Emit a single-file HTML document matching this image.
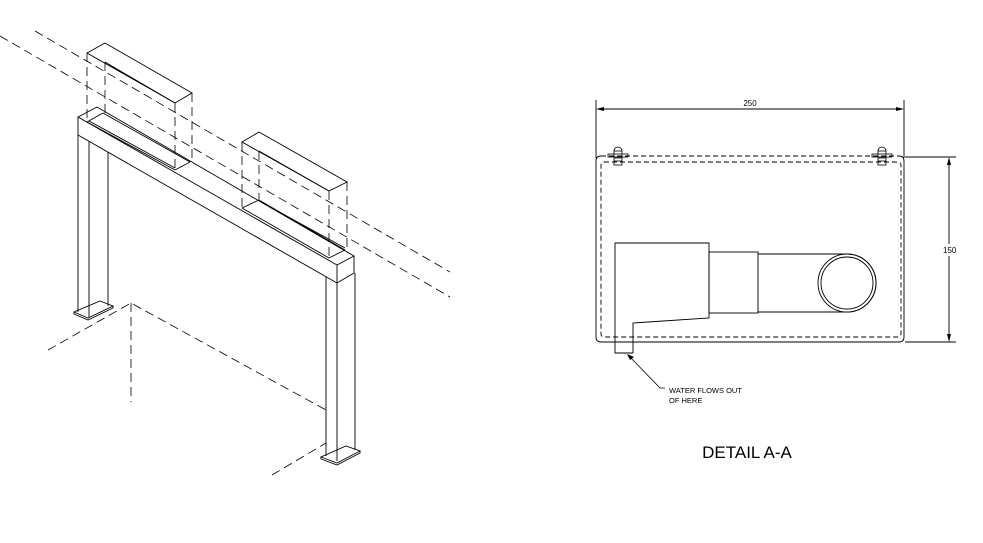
<!DOCTYPE html>
<html><head><style>body{margin:0;background:#fff}svg{display:block}</style></head><body>
<svg width="983" height="543" viewBox="0 0 983 543" xmlns="http://www.w3.org/2000/svg" font-family="Liberation Sans, sans-serif">
<g fill="none" stroke="#000" stroke-width="0.9">
<g stroke-dasharray="9,5" stroke-width="0.8">
<line x1="0" y1="36" x2="450" y2="297"/>
<line x1="35" y1="31" x2="450" y2="272"/>
<polyline points="48,350 131,303 326,410"/>
<line x1="131" y1="303" x2="131" y2="402"/>
<line x1="272" y1="475" x2="326" y2="443"/>
<line x1="87" y1="53" x2="87" y2="122"/>
<line x1="105" y1="62" x2="105" y2="113"/>
<line x1="175" y1="103" x2="175" y2="170"/>
<line x1="192" y1="93" x2="192" y2="162"/>
<line x1="242" y1="142" x2="242" y2="208"/>
<line x1="259" y1="151" x2="259" y2="200"/>
<line x1="329" y1="191" x2="329" y2="258"/>
<line x1="347" y1="182" x2="347" y2="250"/>
</g>
<polygon points="87,53 105,43 192,93 175,103"/>
<line x1="105" y1="62" x2="175" y2="103"/>
<line x1="175" y1="170" x2="190" y2="162"/>
<polygon points="242,142 259,132 347,182 329,191"/>
<line x1="259" y1="151" x2="329" y2="191"/>
<line x1="329" y1="258" x2="345" y2="250"/>
<polygon points="78,117 97,107 354,256 337,265"/>
<line x1="78" y1="117" x2="78" y2="312"/>
<line x1="78" y1="135" x2="337" y2="283"/>
<polyline points="337,265 337,283 354,273 354,256"/>
<line x1="87" y1="122" x2="175" y2="170"/>
<line x1="89" y1="121" x2="175" y2="168"/>
<line x1="103" y1="113" x2="190" y2="162"/>
<line x1="87" y1="122" x2="103" y2="113"/>
<line x1="242" y1="208" x2="329" y2="258"/>
<line x1="259" y1="200" x2="345" y2="250"/>
<line x1="261" y1="202" x2="345" y2="248"/>
<line x1="242" y1="208" x2="259" y2="200"/>
<!-- left post -->
<line x1="89" y1="141" x2="89" y2="317"/>
<line x1="108" y1="152" x2="108" y2="306"/>
<polygon points="74,312 88,318 113,306 100,301"/>
<polyline points="74,312 74,314 88,320 113,308 113,306"/>
<!-- right post -->
<line x1="326" y1="277" x2="326" y2="456"/>
<line x1="337" y1="283" x2="337" y2="461"/>
<line x1="355" y1="273" x2="355" y2="450"/>
<polygon points="321,457 337,463 360,451 346,446"/>
<polyline points="321,457 321,459 337,465 360,453 360,451"/>
</g>

<g fill="none" stroke="#000" stroke-width="0.9">
<line x1="596" y1="100" x2="596" y2="158"/>
<line x1="904" y1="100" x2="904" y2="158"/>
<line x1="600" y1="109" x2="900" y2="109"/>
<line x1="905" y1="157" x2="956" y2="157"/>
<line x1="905" y1="342" x2="956" y2="342"/>
<line x1="949" y1="161" x2="949" y2="244"/>
<line x1="949" y1="256" x2="949" y2="338"/>
<path d="M601,156 Q596,156 596,161 L596,337 Q596,342 601,342 L899,342 Q904,342 904,337 L904,161 Q904,156 899,156"/>
<g stroke-dasharray="5,3">
<line x1="601" y1="156" x2="899" y2="156"/>
<rect x="601" y="162" width="300" height="175" rx="3"/>
</g>
<polyline points="633,353 615,353 615,243 709,243 709,318 633,323 633,353"/>
<rect x="709" y="252" width="49" height="61"/>
<path d="M758,254 L847,254 A29,29 0 0 1 847,312 L758,312"/>
<circle cx="847" cy="283" r="29"/>
<circle cx="847" cy="283" r="26"/>
<g stroke-width="0.8">
<rect x="608" y="154" width="20" height="3"/><rect x="614" y="151" width="8" height="14"/>
<path d="M614,151 A4,4 0 0 1 622,151"/>
<line x1="614" y1="158" x2="622" y2="158"/><line x1="614" y1="161" x2="622" y2="161"/>
<rect x="872" y="154" width="20" height="3"/><rect x="878" y="151" width="8" height="14"/>
<path d="M878,151 A4,4 0 0 1 886,151"/>
<line x1="878" y1="158" x2="886" y2="158"/><line x1="878" y1="161" x2="886" y2="161"/>
</g>
<polyline points="629,356 660,388 665,388" stroke-width="0.8"/>
</g>
<g fill="#000">
<polygon points="596,109 604,107 604,111"/>
<polygon points="904,109 896,107 896,111"/>
<polygon points="949,157 947,165 951,165"/>
<polygon points="949,342 947,334 951,334"/>
<polygon points="627,354 634,357 630,360"/>
</g>
<g font-size="8" fill="#000">
<text x="750" y="106" text-anchor="middle">250</text>
<text x="943" y="253">150</text>
<text x="669" y="393" font-size="7.5">WATER FLOWS OUT</text>
<text x="669" y="403" font-size="7.5">OF HERE</text>
</g>
<text x="747" y="458" font-size="17" text-anchor="middle" fill="#000">DETAIL A-A</text>
</svg>
</body></html>
